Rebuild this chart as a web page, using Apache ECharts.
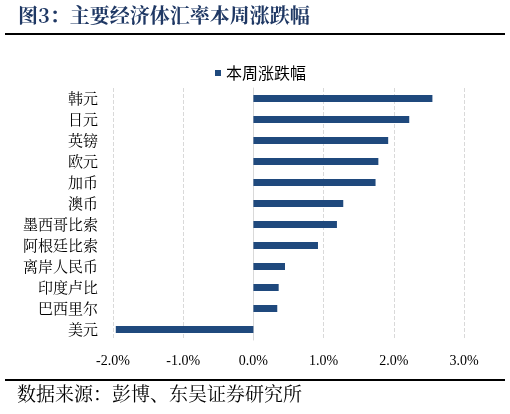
<!DOCTYPE html>
<html><head><meta charset="utf-8">
<script src="https://cdn.jsdelivr.net/npm/echarts@6/dist/echarts.min.js"></script>
<style>html,body{margin:0;padding:0;background:#fff}#c{width:510px;height:414px}</style>
</head><body><div id="c"></div>
<script>
var categories = ['韩元','日元','英镑','欧元','加币','澳币','墨西哥比索','阿根廷比索','离岸人民币','印度卢比','巴西里尔','美元'];
var weeklyChange = [2.55, 2.22, 1.92, 1.78, 1.74, 1.28, 1.19, 0.92, 0.45, 0.36, 0.34, -1.96];
var seriesName = '本周涨跌幅';
var chartTitle = '图3：主要经济体汇率本周涨跌幅';
var sourceText = '数据来源：彭博、东吴证券研究所';

var chart = echarts.init(document.getElementById('c'));
chart.setOption({
  animation: false,
  backgroundColor: '#fff',
  textStyle: {fontFamily: '"Noto Sans CJK SC", sans-serif'},
  graphic: [
    {type: 'text', left: 18, top: 5, style: {text: chartTitle, fill: '#1F3864', font: 'bold 20px "Noto Serif CJK SC","Noto Sans CJK SC", serif'}},
    {type: 'rect', shape: {x: 5, y: 33, width: 500, height: 2}, style: {fill: '#000'}},
    {type: 'rect', shape: {x: 5, y: 379, width: 500, height: 2}, style: {fill: '#000'}},
    {type: 'text', left: 17, top: 384, style: {text: sourceText, fill: '#000', font: '19px "Noto Serif CJK SC","Noto Sans CJK SC", serif'}}
  ],
  legend: {
    data: [seriesName], left: 210, top: 60, icon: 'rect', itemWidth: 6, itemHeight: 6, itemGap: 5,
    textStyle: {fontSize: 16, color: '#000'}
  },
  grid: {left: 113, right: 46, top: 88, bottom: 74, containLabel: false},
  xAxis: {
    type: 'value', min: -2, max: 3, interval: 1,
    axisLine: {show: false}, axisTick: {show: false},
    axisLabel: {formatter: function(v){return v.toFixed(1) + '%';}, color: '#000', fontSize: 14, fontFamily: '"Liberation Serif", serif', margin: 14},
    splitLine: {show: true, lineStyle: {type: 'dashed', color: '#d9d9d9', width: 1}}
  },
  yAxis: {
    type: 'category', inverse: true, data: categories,
    axisLine: {show: true, onZero: true, lineStyle: {color: '#d9d9d9', width: 1}},
    axisTick: {show: false},
    axisLabel: {color: '#000', fontSize: 15, margin: 15, fontFamily: '"Noto Serif CJK SC","Noto Sans CJK SC", serif'}
  },
  series: [{
    name: seriesName, type: 'bar', data: weeklyChange, barWidth: 7,
    itemStyle: {color: '#1F497D'}
  }]
});
</script></body></html>
